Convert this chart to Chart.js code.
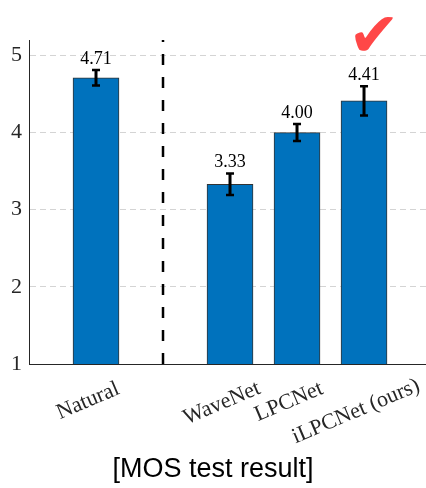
<!DOCTYPE html>
<html><head><meta charset="utf-8">
<script src="https://cdn.jsdelivr.net/npm/chart.js@4/dist/chart.umd.min.js"></script>
<style>html,body{margin:0;padding:0;background:#fff;overflow:hidden}#wrap{width:426px;height:488px;position:relative}</style>
</head><body><div id="wrap"><canvas id="c" width="426" height="488"></canvas></div>
<script>
const categories = ['Natural', 'WaveNet', 'LPCNet', 'iLPCNet (ours)'];
const mosValues = [4.71, 3.33, 4.00, 4.41];
const ciValues = [0.10, 0.14, 0.11, 0.19];
const yTickValues = [1, 2, 3, 4, 5];
const titleText = '[MOS test result]';
const markText = '\u2714';

// slot layout: reference in slot 1, separator in slot 2, systems in slots 3..5
const slotOf = i => (i === 0 ? 1 : i + 2);
const separatorSlot = 2;
const markedIndex = 3;

const overlay = {
  id: 'overlay',
  afterDatasetsDraw(chart) {
    const {ctx, chartArea, scales: {x, y}} = chart;
    ctx.save();
    const sx = x.getPixelForValue(separatorSlot);
    ctx.strokeStyle = '#000';
    ctx.lineWidth = 2.5;
    ctx.setLineDash([11, 12]);
    ctx.beginPath(); ctx.moveTo(sx, chartArea.bottom); ctx.lineTo(sx, chartArea.top); ctx.stroke();
    ctx.setLineDash([]);
    categories.forEach((c, i) => {
      const px = x.getPixelForValue(slotOf(i));
      const top = y.getPixelForValue(mosValues[i] + ciValues[i]);
      const bot = y.getPixelForValue(mosValues[i] - ciValues[i]);
      ctx.strokeStyle = '#000';
      ctx.lineWidth = 3;
      ctx.beginPath(); ctx.moveTo(px, top); ctx.lineTo(px, bot); ctx.stroke();
      ctx.lineWidth = 2.5;
      ctx.beginPath();
      ctx.moveTo(px - 4, top); ctx.lineTo(px + 4, top);
      ctx.moveTo(px - 4, bot); ctx.lineTo(px + 4, bot);
      ctx.stroke();
      ctx.fillStyle = '#000';
      ctx.font = '18px "Liberation Serif"';
      ctx.textAlign = 'center';
      ctx.textBaseline = 'alphabetic';
      ctx.fillText(mosValues[i].toFixed(2), px, top - 6);
    });
    ctx.restore();
  },
  afterDraw(chart) {
    const {ctx, chartArea, scales: {x}} = chart;
    ctx.save();
    ctx.fillStyle = '#262626';
    ctx.font = '22px "Liberation Serif"';
    ctx.textAlign = 'center';
    ctx.textBaseline = 'middle';
    const refW = ctx.measureText(categories[0]).width;
    categories.forEach((c, i) => {
      const px = x.getPixelForValue(slotOf(i));
      const w = ctx.measureText(c).width;
      ctx.save();
      ctx.translate(px - 8, chartArea.bottom + 37 + 0.15 * (w - refW));
      ctx.rotate(-23 * Math.PI / 180);
      ctx.fillText(c, 0, 0);
      ctx.restore();
    });
    ctx.fillStyle = '#ff4747';
    ctx.font = '62px "DejaVu Sans"';
    ctx.textAlign = 'center';
    ctx.textBaseline = 'alphabetic';
    ctx.fillText(markText, x.getPixelForValue(slotOf(markedIndex)) + 10, 56);
    ctx.restore();
  }
};

new Chart(document.getElementById('c'), {
  type: 'bar',
  data: {
    datasets: [{
      data: categories.map((c, i) => ({x: slotOf(i), y: mosValues[i]})),
      backgroundColor: '#0072BD',
      borderColor: '#333333',
      borderWidth: 1,
      barThickness: 46
    }]
  },
  options: {
    responsive: false,
    animation: false,
    devicePixelRatio: 1,
    layout: {padding: {top: 40, left: 0, right: 0, bottom: 0}},
    plugins: {
      legend: {display: false},
      tooltip: {enabled: false},
      title: {
        display: true, text: titleText, position: 'bottom', color: '#000',
        font: {family: '"Liberation Sans"', size: 27, weight: 'normal', lineHeight: 1.2},
        padding: {top: 0, bottom: 2}
      }
    },
    scales: {
      x: {
        type: 'linear', min: 0, max: 5.925, offset: false,
        ticks: {display: false},
        grid: {display: false, offset: false},
        border: {display: true, color: '#262626', width: 1},
        afterFit(s) { s.height = 89.6; }
      },
      y: {
        min: 1, max: 5.2,
        afterBuildTicks(s) { s.ticks = yTickValues.map(v => ({value: v})); },
        ticks: {color: '#262626', padding: 7, font: {family: '"Liberation Serif"', size: 22}},
        grid: {color: '#d4d4d4', lineWidth: 1, drawTicks: false, tickLength: 0},
        border: {display: true, color: '#262626', width: 1, dash: [6, 4]},
        afterFit(s) { s.width = 29; }
      }
    }
  },
  plugins: [overlay]
});
</script></body></html>
